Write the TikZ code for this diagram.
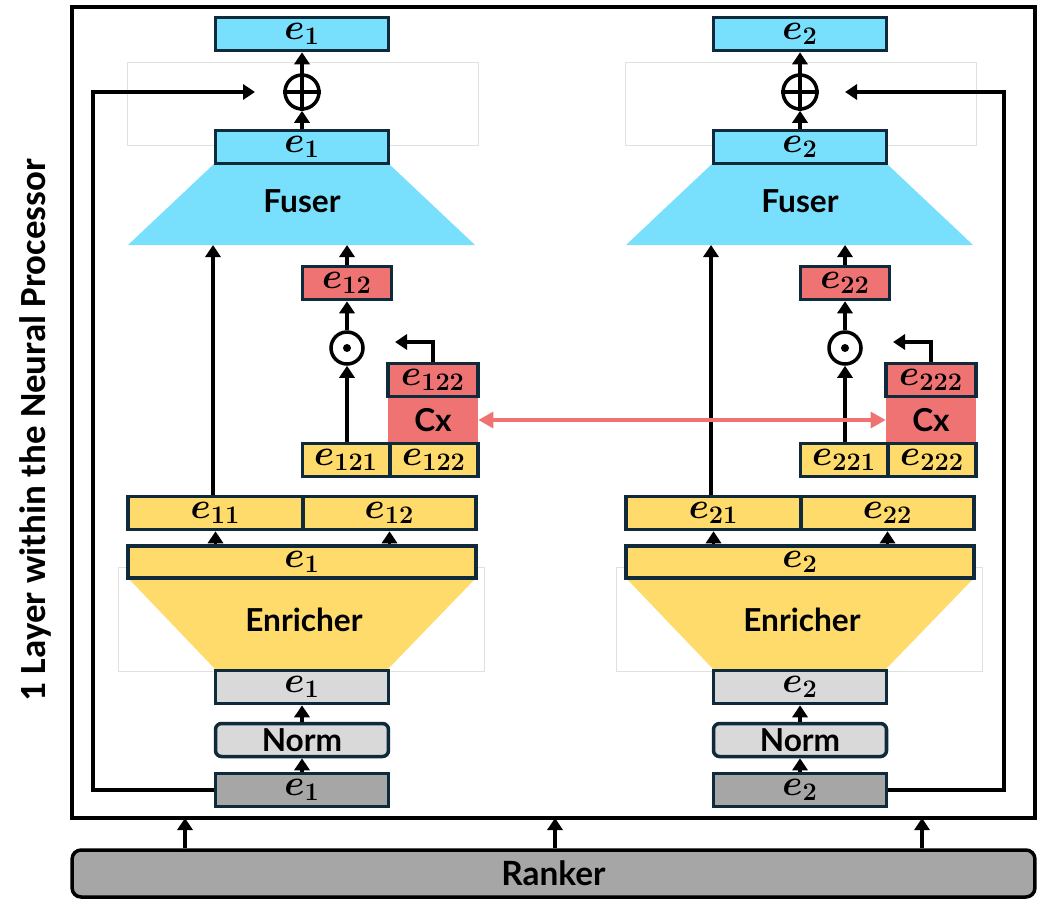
\documentclass[tikz,border=0pt]{standalone}
\usepackage{fontspec}
\usepackage{amsmath}
\usepackage{bm}
\usetikzlibrary{arrows.meta}
\newfontfamily\labfont{Lato}
\newfontfamily\sidefont{Carlito}
\definecolor{fuscyan}{HTML}{78DFFC}
\definecolor{enryel}{HTML}{FFDB6B}
\definecolor{cxred}{HTML}{F07373}
\definecolor{edgeblue}{HTML}{0F2B3B}
\definecolor{litegray}{HTML}{D9D9D9}
\definecolor{rankgray}{HTML}{A6A6A6}
\definecolor{faintgray}{HTML}{E0E0E0}
\tikzset{
  vec/.style={draw=edgeblue, line width=2pt, minimum height=0.66cm, inner sep=0pt,
    font=\fontsize{20}{22}\selectfont},
  widevec/.style={vec, minimum width=3.46cm},
  opcirc/.style={circle, draw=black, line width=2pt, minimum size=0.68cm, inner sep=0pt},
  lbl/.style={font=\labfont\bfseries\fontsize{18}{21}\selectfont},
  arr/.style={line width=1.9pt, -{Triangle[width=0.3cm,length=0.24cm]}},
  faintbox/.style={draw=faintgray, line width=0.5pt},
}
\begin{document}
\begin{tikzpicture}[x=0.02cm, y=-0.02cm]
  \useasboundingbox (0,0) rectangle (1037,899);
  % frame and ranker
  \draw[line width=2pt] (72,7) rectangle (1035,818);
  \node[draw=black, line width=2pt, rounded corners=0.18cm, fill=rankgray,
    minimum width=19.26cm, minimum height=0.94cm, lbl, font=\labfont\bfseries\fontsize{19}{22}\selectfont]
    (ranker) at (553.5,873.5) {Ranker};
  \node[rotate=90, font=\sidefont\bfseries\fontsize{21}{24}\selectfont] (side) at (35,430)
    {1 Layer within the Neural Processor};
  \foreach \x/\n in {185/1,555/2,922/3}
    \coordinate (rk\n) at (\x,818);
  \foreach \n in {1,2,3}
    \draw[arr] (ranker.north -| rk\n) -- (rk\n);
  % two columns
  \foreach \col/\dx in {1/0,2/498} {
    \draw[faintbox] (127+\dx,62) rectangle (478+\dx,145);
    \draw[faintbox] (118+\dx,567) rectangle (484+\dx,671);
    \fill[fuscyan] (215+\dx,163) -- (388+\dx,163) -- (475+\dx,245) -- (128+\dx,245) -- cycle;
    \fill[enryel] (128+\dx,578) -- (476+\dx,578) -- (388+\dx,669) -- (215+\dx,669) -- cycle;
    \node[lbl] (fuse\col) at (302+\dx,201) {Fuser};
    \node[lbl] (enr\col) at (304+\dx,620) {Enricher};
    % vectors
    \node[widevec, fill=fuscyan] (out\col) at (302+\dx,34) {$\bm{e_{\col}}$};
    \node[opcirc] (plus\col) at (302+\dx,92) {};
    \draw[line width=2pt] (plus\col.north) -- (plus\col.south) (plus\col.west) -- (plus\col.east);
    \node[widevec, fill=fuscyan] (fin\col) at (302+\dx,147) {$\bm{e_{\col}}$};
    \node[vec, minimum width=1.78cm, fill=cxred] (ered\col) at (347+\dx,283) {$\bm{e_{\col2}}$};
    \node[opcirc, minimum size=0.64cm] (dot\col) at (347+\dx,348) {};
    \fill (dot\col) circle (0.08cm);
    \node[fill=cxred, minimum width=1.8cm, minimum height=0.94cm, inner sep=0pt, lbl] (cx\col) at (433+\dx,420) {Cx};
    \node[vec, minimum width=1.8cm, fill=cxred] (cxh\col) at (433+\dx,380) {$\bm{e_{\col22}}$};
    \node[vec, minimum width=1.74cm, fill=enryel] (ea\col) at (346+\dx,460) {$\bm{e_{\col21}}$};
    \node[vec, minimum width=1.76cm, fill=enryel] (eb\col) at (434+\dx,460) {$\bm{e_{\col22}}$};
    \node[vec, minimum width=3.5cm, fill=enryel] (esa\col) at (215.5+\dx,513) {$\bm{e_{\col1}}$};
    \node[vec, minimum width=3.46cm, fill=enryel] (esb\col) at (389.5+\dx,513) {$\bm{e_{\col2}}$};
    \node[vec, minimum width=6.96cm, minimum height=0.64cm, fill=enryel] (emb\col) at (302+\dx,562) {$\bm{e_{\col}}$};
    \node[widevec, fill=litegray] (nrm\col) at (302+\dx,687) {$\bm{e_{\col}}$};
    \node[widevec, fill=litegray, rounded corners=0.12cm, lbl] (norm\col) at (302+\dx,740) {Norm};
    \node[widevec, fill=rankgray] (in\col) at (302+\dx,790) {$\bm{e_{\col}}$};
    % connectors
    \coordinate (fl\col) at (213+\dx,245);
    \coordinate (fr\col) at (347+\dx,245);
    \coordinate (back\col) at (395+\dx,342);
    \draw[arr] (in\col) -- (norm\col);
    \draw[arr] (norm\col) -- (nrm\col);
    \draw[arr] (emb\col.north -| esa\col) -- (esa\col.south);
    \draw[arr] (emb\col.north -| esb\col) -- (esb\col.south);
    \draw[arr] (esa\col.north -| fl\col) -- (fl\col);
    \draw[arr] (ea\col.north -| dot\col) -- (dot\col.south);
    \draw[arr] (dot\col) -- (ered\col);
    \draw[arr] (ered\col) -- (ered\col.north |- fr\col);
    \draw[arr] (cxh\col.north) |- (back\col);
    \draw[arr] (fin\col) -- (plus\col);
    \draw[arr] (plus\col) -- (out\col);
  }
  % residual paths
  \coordinate (lturn) at (93,92);
  \coordinate (lend) at (255,92);
  \coordinate (rturn) at (1004,92);
  \coordinate (rend) at (845,92);
  \draw[arr] (in1.west) -| (lturn) -- (lend);
  \draw[arr] (in2.east) -| (rturn) -- (rend);
  % exchange between the two Cx blocks
  \draw[line width=1.9pt, draw=cxred, {Triangle[width=0.32cm,length=0.3cm]}-{Triangle[width=0.32cm,length=0.3cm]}]
    (cx1.east) -- (cx2.west);
\end{tikzpicture}
\end{document}
